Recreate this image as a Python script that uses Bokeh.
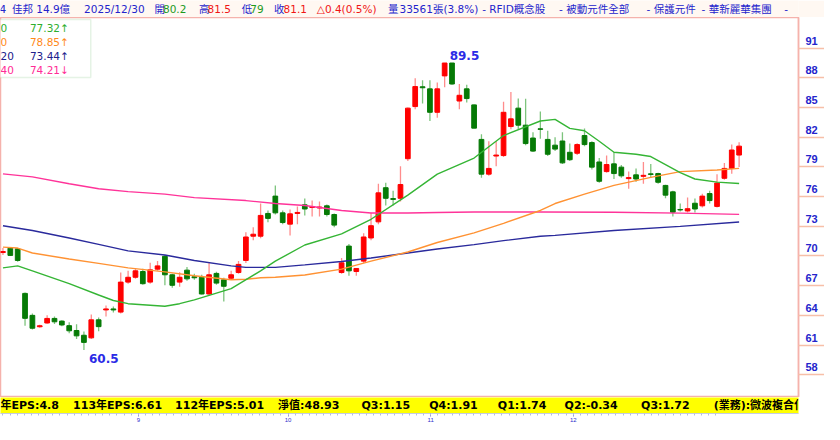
import numpy as np
from bokeh.plotting import figure
from bokeh.models import ColumnDataSource, Range1d, FixedTicker, Label, BoxAnnotation, LinearAxis
from bokeh.layouts import column
from bokeh.embed import file_html
from bokeh.resources import INLINE
from bokeh.core.properties import value

# ---------------- data ----------------
idx = list(range(101))
opens = [70.35, 70.78, 70.72, 66.22, 64.0, 62.85, 63.23, 63.69, 63.42, 62.96,
         62.47, 61.99, 61.73, 63.55, 64.55, 64.65, 64.33, 67.36, 67.85, 68.43,
         67.36, 68.67, 69.97, 68.1, 67.36, 68.57, 67.9, 67.85, 66.16, 68.24,
         67.59, 67.75, 68.33, 69.55, 72.0, 72.0, 74.3, 76.05, 74.36, 73.22,
         74.3, 75.17, 74.9, 74.85, 75.07, 74.19, 68.33, 71.0, 68.43, 69.48,
         71.82, 73.45, 76.9, 75.8, 75.83, 79.83, 85.1, 87.1, 86.89, 84.52,
         88.2, 89.5, 85.66, 86.89, 85.27, 81.78, 78.27, 80.1, 80.15, 83.08,
         84.94, 83.22, 81.92, 82.85, 81.78, 81.2, 81.62, 80.48, 80.38, 82.17,
         81.46, 79.5, 78.53, 79.31, 78.98, 77.82, 78.2, 78.05, 78.3, 78.33,
         77.13, 76.48, 74.7, 74.55, 75.33, 75.07, 76.31, 75.01, 77.85, 78.85,
         80.2]
highs = [70.8, 70.9, 70.8, 66.3, 64.2, 63.05, 64.0, 63.88, 63.5, 63.3,
         63.1, 62.38, 64.1, 63.78, 64.99, 64.9, 68.33, 68.5, 68.75, 68.7,
         69.31, 69.5, 70.1, 68.2, 68.35, 68.9, 68.2, 68.1, 69.31, 68.4,
         67.8, 68.5, 69.5, 72.4, 72.9, 75.3, 74.6, 77.13, 74.6, 74.7,
         75.0, 75.8, 75.6, 75.5, 75.2, 74.3, 69.8, 71.2, 68.74, 72.3,
         74.36, 77.29, 77.4, 76.6, 79.08, 85.0, 87.96, 87.77, 87.77, 87.54,
         89.5, 89.5, 87.38, 87.3, 85.3, 82.3, 81.6, 81.6, 85.59, 86.57,
         85.91, 85.9, 82.5, 84.61, 82.66, 82.0, 82.5, 81.36, 81.4, 82.89,
         81.6, 79.9, 80.15, 80.48, 79.2, 78.53, 78.85, 79.5, 79.3, 78.4,
         77.2, 76.6, 75.3, 75.92, 75.8, 76.3, 76.6, 78.27, 79.4, 81.26,
         81.5]
lows = [70.1, 70.0, 69.41, 62.96, 62.57, 62.75, 63.15, 63.13, 62.9, 62.2,
        61.6, 60.5, 61.6, 62.4, 63.88, 64.3, 64.2, 67.2, 67.7, 67.1,
        67.2, 68.5, 67.04, 66.8, 66.9, 67.5, 67.6, 66.1, 66.0, 67.1,
        65.4, 67.6, 68.2, 69.3, 71.6, 71.8, 73.4, 74.2, 73.2, 72.08,
        73.2, 74.1, 74.0, 74.0, 74.0, 72.9, 68.2, 68.0, 68.0, 69.3,
        71.6, 73.2, 75.1, 75.1, 75.5, 79.6, 84.84, 85.42, 83.64, 83.96,
        87.05, 87.3, 84.84, 85.5, 82.9, 77.9, 78.1, 79.08, 80.0, 82.8,
        82.8, 81.2, 80.5, 81.85, 80.1, 80.6, 79.3, 79.6, 80.2, 81.1,
        78.75, 77.4, 78.4, 77.78, 77.9, 76.8, 77.5, 77.29, 77.9, 77.3,
        75.83, 74.0, 74.5, 74.4, 74.4, 74.9, 75.3, 74.9, 77.7, 78.3,
        79.0]
closes = [70.45, 70.06, 69.55, 63.7, 62.7, 62.95, 63.69, 63.35, 63.03, 62.44,
          61.93, 61.27, 63.55, 62.86, 64.65, 64.55, 67.36, 67.85, 68.5, 67.2,
          68.6, 69.0, 68.1, 67.04, 67.85, 67.69, 67.8, 66.16, 68.1, 67.26,
          66.94, 68.1, 69.15, 71.92, 72.2, 74.1, 73.8, 74.36, 73.38, 74.26,
          74.4, 74.75, 75.0, 74.95, 74.19, 73.12, 69.31, 68.5, 68.74, 71.92,
          73.06, 76.38, 75.83, 75.72, 77.22, 84.94, 87.12, 87.0, 84.52, 86.89,
          89.5, 87.38, 86.24, 85.91, 82.92, 78.27, 78.85, 80.2, 84.52, 83.86,
          83.22, 81.36, 80.6, 82.8, 80.28, 80.8, 79.41, 79.73, 81.26, 81.26,
          78.98, 77.55, 79.24, 78.33, 78.1, 77.92, 77.78, 78.15, 78.24, 77.45,
          76.15, 74.43, 74.65, 74.78, 74.75, 76.05, 75.6, 77.37, 78.85, 80.71,
          81.1]

ma20_idx = [0, 2, 4, 9, 13, 15, 17, 22, 24, 26, 31, 35, 37, 41, 46, 50, 55, 59, 64, 68,
            73, 75, 77, 79, 81, 83, 86, 88, 92, 94, 97, 100]
ma20 = [68.8, 69.0, 68.5, 67.2, 66.06, 65.5, 65.18, 64.92, 65.18, 65.57, 66.71, 68.5,
        69.48, 71.11, 72.24, 73.71, 76.15, 78.27, 79.9, 82.17, 83.64, 83.8, 82.89, 82.66,
        81.6, 80.48, 80.28, 80.05, 78.43, 77.78, 77.46, 77.32]
ma60_idx = [0, 2, 4, 9, 13, 17, 22, 26, 31, 33, 35, 37, 41, 46, 50, 55, 59, 64, 68, 73,
            75, 79, 83, 88, 92, 97, 100]
ma60 = [70.9, 70.8, 70.3, 69.7, 69.25, 68.8, 68.4, 68.0, 67.6, 67.65, 67.8, 67.85, 68.08,
        68.67, 69.48, 70.4, 71.36, 72.34, 73.3, 74.6, 75.3, 76.25, 77.13, 77.94, 78.53,
        78.69, 78.85]
ma120_idx = [0, 4, 9, 13, 17, 22, 26, 31, 33, 37, 41, 46, 50, 55, 59, 64, 68, 73, 75, 83,
             92, 100]
ma120 = [73.06, 72.57, 71.82, 71.17, 70.52, 70.1, 69.55, 69.0, 68.85, 68.85, 69.1, 69.45,
         69.8, 70.3, 70.7, 71.15, 71.55, 72.0, 72.08, 72.57, 72.99, 73.44]
ma240_idx = [0, 4, 9, 13, 17, 22, 26, 33, 37, 41, 46, 50, 55, 59, 64, 68, 73, 83, 92, 100]
ma240 = [78.3, 78.0, 77.3, 76.8, 76.5, 76.25, 75.9, 75.6, 75.3, 75.1, 74.6, 74.35, 74.35,
         74.4, 74.45, 74.45, 74.45, 74.42, 74.33, 74.21]

y_ticks = [58, 61, 64, 67, 70, 73, 76, 79, 82, 85, 88, 91]
month_ticks = [19, 40, 60, 80]
month_labels = ["9", "10", "11", "12"]

legend_prefix = ["0", "0", "20", "40"]
legend_values = ["77.32↑", "78.85↑", "73.44↑", "74.21↓"]

header_texts = ["4", "佳邦 14.9億", "2025/12/30", "開", "80.2", "高", "81.5", "低", "79",
                "收", "81.1", "△0.4(0.5%)", "量", "33561張(3.8%)", "- RFID概念股",
                "- 被動元件全部", "- 保護元件", "- 華新麗華集團", "-"]
header_kind = ["b", "b", "b", "b", "g", "b", "r", "b", "g", "b", "r", "r", "b", "b", "b",
               "b", "b", "b", "b"]
header_xref = [-1, 12, 88, 162, 171, 209, 218, 254, 263, 288, 298, 333, 408, 420, 507,
               588, 680, 738, 825]

strip_texts = ["年EPS:4.8", "113年EPS:6.61", "112年EPS:5.01", "淨值:48.93", "Q3:1.15",
               "Q4:1.91", "Q1:1.74", "Q2:-0.34", "Q3:1.72", "(業務):微波複合化"]
strip_xref = [0, 74, 178, 283, 368, 437, 507, 575, 653, 727]

# ---------------- layout / style ----------------
W = 824
H_HEAD = 17
H_MAIN = 380
H_STRIP = 27
AXW = 26
FRW = W - AXW
XS = W / 840.0
YS = H_MAIN / 393.0

UP, DOWN = "#FF0000", "#067A06"
UP_W, DOWN_W = "#FF8C8C", "#7DC47D"
BLUE = "#2424CC"
PINK_FRAME = "#F5B2AC"
C20, C60, C120, C240 = "#35B535", "#FF9233", "#2A2A9C", "#FF3399"
CJK = "DejaVu Sans, Noto Sans CJK TC"

x0 = -0.333
x1 = x0 + 813 / 7.5
y0, y1 = 55.7, 94.1
# tick labels sit ~7.5px above their tick line
lab_shift = 7.5 * (y1 - y0) / H_MAIN

# ---------------- header ----------------
hc = {"b": BLUE, "g": "#1E9A1E", "r": "#F01515"}
head = figure(width=W, height=H_HEAD, x_range=Range1d(0, W), y_range=Range1d(0, 1),
              output_backend="svg", toolbar_location=None, min_border=0,
              x_axis_location=None, y_axis_location=None)
head.background_fill_color = "#FFF8F2"
head.border_fill_color = "#FFF8F2"
head.outline_line_color = None
head.grid.grid_line_color = None
hsrc = ColumnDataSource(dict(x=[v * XS for v in header_xref], y=[0.5] * len(header_texts),
                             t=header_texts, c=[hc[k] for k in header_kind]))
head.text(x="x", y="y", text="t", text_color="c", source=hsrc, text_baseline="middle",
          text_font=value(CJK), text_font_size="10.5px")

# ---------------- main chart ----------------
p = figure(width=W, height=H_MAIN, x_range=Range1d(x0, x1), y_range=Range1d(y0, y1),
           output_backend="svg", toolbar_location=None, min_border=0,
           x_axis_location=None, y_axis_location=None)
p.min_border_right = AXW
p.background_fill_color = "white"
p.border_fill_color = "white"
p.outline_line_color = PINK_FRAME
p.outline_line_width = 1.5
p.grid.grid_line_color = None

p.extra_y_ranges = {"lab": Range1d(y0 - lab_shift, y1 - lab_shift)}
ya = LinearAxis(y_range_name="lab")
ya.ticker = FixedTicker(ticks=y_ticks, minor_ticks=[t - lab_shift for t in y_ticks])
ya.axis_line_color = PINK_FRAME
ya.axis_line_width = 1.5
ya.major_tick_out = 0
ya.major_tick_in = 0
ya.major_tick_line_color = None
ya.minor_tick_out = AXW
ya.minor_tick_in = 0
ya.minor_tick_line_color = "#F7BFA8"
ya.minor_tick_line_width = 1.6
ya.major_label_standoff = 7 - AXW
ya.major_label_text_color = BLUE
ya.major_label_text_font = "Liberation Sans"
ya.major_label_text_font_style = "bold"
ya.major_label_text_font_size = "11px"
p.add_layout(ya, "right")

o = np.array(opens); c = np.array(closes)
up = c >= o
src = ColumnDataSource(dict(
    x=idx, h=highs, l=lows,
    top=np.maximum(o, c), bottom=np.minimum(o, c),
    col=[UP if u else DOWN for u in up],
    wick=[UP_W if u else DOWN_W for u in up],
))
p.segment(x0="x", y0="l", x1="x", y1="h", line_color="wick", line_width=1.3, source=src)
p.vbar(x="x", width=0.64, top="top", bottom="bottom", fill_color="col", line_color="col",
       line_width=1, source=src)

p.line(ma240_idx, ma240, line_color=C240, line_width=1.4)
p.line(ma120_idx, ma120, line_color=C120, line_width=1.4)
p.line(ma60_idx, ma60, line_color=C60, line_width=1.4)
p.line(ma20_idx, ma20, line_color=C20, line_width=1.4)

hi_i = int(np.argmax(highs))
lo_i = int(np.argmin(lows))
p.add_layout(Label(x=hi_i, y=highs[hi_i], x_offset=5, y_offset=3, text=f"{highs[hi_i]:.1f}",
                   text_baseline="bottom", text_align="left", text_color="#2B2BE6",
                   text_font="DejaVu Sans", text_font_style="bold", text_font_size="12px"))
p.add_layout(Label(x=lo_i, y=lows[lo_i], x_offset=5, y_offset=-4, text=f"{lows[lo_i]:.1f}",
                   text_baseline="top", text_align="left", text_color="#2B2BE6",
                   text_font="DejaVu Sans", text_font_style="bold", text_font_size="12px"))

# legend box (top-left)
def sy(yref):
    return (411 - yref) * YS

p.add_layout(BoxAnnotation(left=-3, right=92 * XS, top=sy(20), bottom=sy(80),
                           left_units="screen", right_units="screen", top_units="screen",
                           bottom_units="screen", fill_color="white", fill_alpha=1.0,
                           line_color="#A8D8A8", line_width=1.5, level="overlay"))
leg_cols = ["#2DAE2D", "#FF8A1A", "#20208C", "#FF2D95"]
for k, (pre, val) in enumerate(zip(legend_prefix, legend_values)):
    yy = sy(29 + k * 14.3)
    p.add_layout(Label(x=0, y=yy, x_units="screen", y_units="screen", text=pre,
                       text_baseline="middle", text_color=leg_cols[k],
                       text_font="DejaVu Sans", text_font_size="10.5px", level="overlay"))
    p.add_layout(Label(x=30 * XS, y=yy, x_units="screen", y_units="screen", text=val,
                       text_baseline="middle", text_color=leg_cols[k],
                       text_font="DejaVu Sans", text_font_size="10.5px", level="overlay"))

# ---------------- bottom EPS strip + month axis ----------------
s = figure(width=W, height=H_STRIP, x_range=Range1d(x0, x0 + (x1 - x0) * W / FRW),
           y_range=Range1d(0, 1), output_backend="svg", toolbar_location=None,
           min_border=0, y_axis_location=None)
s.background_fill_color = "#FFFF00"
s.border_fill_color = "white"
s.outline_line_color = None
s.grid.grid_line_color = None
xa = s.xaxis[0]
xa.ticker = FixedTicker(ticks=month_ticks, minor_ticks=idx)
xa.major_label_overrides = {t: lab for t, lab in zip(month_ticks, month_labels)}
xa.major_label_text_font_size = "6px"
xa.major_label_text_color = "#3030CC"
xa.major_label_standoff = 1
xa.axis_line_color = "#C4CCE4"
xa.major_tick_out = 3
xa.major_tick_in = 0
xa.minor_tick_out = 2
xa.minor_tick_in = 0
xa.major_tick_line_color = "#7F88D0"
xa.minor_tick_line_color = "#B4BCDC"

for t, xr in zip(strip_texts, strip_xref):
    s.add_layout(Label(x=xr * XS, y=0.5, x_units="screen", text=t, text_baseline="middle",
                       text_color="black", text_font=CJK, text_font_style="bold",
                       text_font_size="11px"))

layout = column(head, p, s, spacing=0)
open("out.html", "w").write(file_html(layout, INLINE))
